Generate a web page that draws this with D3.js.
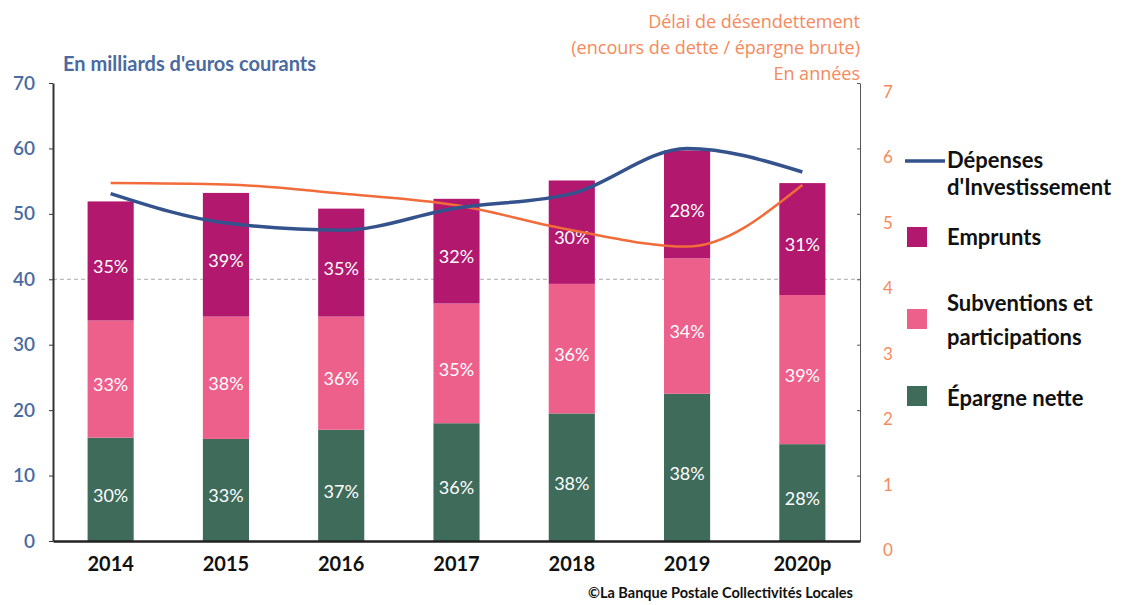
<!DOCTYPE html>
<html>
<head>
<meta charset="utf-8">
<script src="https://cdn.jsdelivr.net/npm/d3@7"></script>
<style>
    body { margin: 0; background: #fff; }
    svg text { font-family: Lato, "Open Sans", sans-serif; }
</style>
</head>
<body>
<svg id="chart" width="1133" height="605"></svg>
<script>
// data
const years = ["2014", "2015", "2016", "2017", "2018", "2019", "2020p"];
const epargneNette = [15.8, 15.6, 17.0, 18.0, 19.5, 22.5, 14.8];
const subventions = [17.9, 18.7, 17.3, 18.3, 19.8, 20.7, 22.8];
const emprunts = [18.2, 18.9, 16.5, 16.0, 15.8, 16.5, 17.1];

const pctEpargne = [30, 33, 37, 36, 38, 38, 28];
const pctSubventions = [33, 38, 36, 35, 36, 34, 39];
const pctEmprunts = [35, 39, 35, 32, 30, 28, 31];

// lines
const depenses = [53.1, 48.6, 47.5, 50.9, 53.1, 60.0, 56.4];   // left axis, Md€
const delai = [5.47, 5.45, 5.31, 5.13, 4.75, 4.50, 5.44];      // right axis, years

const leftTicks = [0, 10, 20, 30, 40, 50, 60, 70];
const rightTicks = [0, 1, 2, 3, 4, 5, 6, 7];

const colors = {
    epargne: "#3f6b5b",
    subventions: "#ee608c",
    emprunts: "#b1186e",
    depenses: "#34528c",
    delai: "#f26b3a",
    orangeText: "#f58a5c",
    blueText: "#4a6aa0"
};

const svg = d3.select("#chart");

// scales
const x = d3.scaleBand().domain(years).range([53, 860]).paddingInner(0.6).paddingOuter(0.3);
const yLeft = d3.scaleLinear().domain([0, 70]).range([541, 83]);
const yRight = d3.scaleLinear().domain([0, 7]).range([541, 83]);

// dashed gridline at 40
svg.append("line")
    .attr("x1", 53).attr("x2", 860)
    .attr("y1", yLeft(40)).attr("y2", yLeft(40))
    .attr("stroke", "#aaa")
    .attr("stroke-width", 1)
    .attr("stroke-dasharray", "4,3");

// stacked bars
const rows = years.map((yr, i) => ({
    year: yr,
    epargne: epargneNette[i],
    subventions: subventions[i],
    emprunts: emprunts[i]
}));
const keys = ["epargne", "subventions", "emprunts"];
const pctByKey = { epargne: pctEpargne, subventions: pctSubventions, emprunts: pctEmprunts };
const stack = d3.stack().keys(keys)(rows);

const layer = svg.append("g")
    .selectAll("g")
    .data(stack)
    .enter().append("g")
    .attr("fill", d => colors[d.key]);

layer.selectAll("rect")
    .data(d => d)
    .enter().append("rect")
    .attr("x", d => x(d.data.year))
    .attr("y", d => yLeft(d[1]))
    .attr("width", x.bandwidth())
    .attr("height", d => yLeft(d[0]) - yLeft(d[1]));

// percent labels inside bars
stack.forEach(s => {
    svg.append("g")
        .selectAll("text")
        .data(s)
        .enter().append("text")
        .attr("x", d => x(d.data.year) + x.bandwidth() / 2)
        .attr("y", d => (yLeft(d[0]) + yLeft(d[1])) / 2 + 6)
        .attr("dy", "0.35em")
        .attr("text-anchor", "middle")
        .attr("fill", "#fff")
        .attr("font-size", 18)
        .text((d, i) => pctByKey[s.key][i] + "%");
});

// left axis
const leftAxis = svg.append("g")
    .attr("transform", "translate(53,0)")
    .call(d3.axisLeft(yLeft).tickValues(leftTicks).tickSize(4).tickSizeOuter(0).tickPadding(14));
leftAxis.select(".domain").attr("stroke", "#333").attr("stroke-width", 2);
leftAxis.selectAll(".tick line").attr("stroke", "#333");
leftAxis.selectAll("text")
    .attr("fill", colors.blueText)
    .attr("font-size", 19)
    .attr("font-weight", 600);

// right axis
const rightAxis = svg.append("g")
    .attr("transform", "translate(860,0)")
    .call(d3.axisRight(yRight).tickValues(rightTicks).tickFormat(d3.format("d"))
        .tickSize(3).tickSizeOuter(0).tickPadding(20));
rightAxis.select(".domain").attr("stroke", "#555").attr("stroke-width", 1);
rightAxis.selectAll(".tick line").attr("stroke", "#555").attr("x2", -3);
rightAxis.selectAll("text")
    .attr("fill", colors.orangeText)
    .attr("font-size", 17)
    .attr("dy", "0.85em");

// bottom axis
const bottomAxis = svg.append("g")
    .attr("transform", "translate(0,541)")
    .call(d3.axisBottom(x).tickSize(0).tickSizeOuter(0).tickPadding(16));
bottomAxis.select(".domain").attr("stroke", "#222").attr("stroke-width", 2.5);
bottomAxis.selectAll("text")
    .attr("fill", "#111")
    .attr("font-size", 20)
    .attr("font-weight", 700);

// lines
const lineDelai = d3.line()
    .x((d, i) => x(years[i]) + x.bandwidth() / 2)
    .y(d => yRight(d))
    .curve(d3.curveMonotoneX);
const lineDepenses = d3.line()
    .x((d, i) => x(years[i]) + x.bandwidth() / 2)
    .y(d => yLeft(d))
    .curve(d3.curveMonotoneX);

svg.append("path")
    .datum(delai)
    .attr("d", lineDelai)
    .attr("fill", "none")
    .attr("stroke", colors.delai)
    .attr("stroke-width", 2.5);

svg.append("path")
    .datum(depenses)
    .attr("d", lineDepenses)
    .attr("fill", "none")
    .attr("stroke", colors.depenses)
    .attr("stroke-width", 3.5);

// axis titles
svg.append("text")
    .attr("x", 63).attr("y", 71)
    .attr("fill", colors.blueText)
    .attr("font-size", 20)
    .attr("font-weight", 700)
    .text("En milliards d'euros courants");

const rightTitle = ["Délai de désendettement", "(encours de dette / épargne brute)", "En années"];
svg.append("g")
    .selectAll("text")
    .data(rightTitle)
    .enter().append("text")
    .attr("x", 860)
    .attr("y", (d, i) => 28 + i * 26)
    .attr("text-anchor", "end")
    .attr("fill", colors.orangeText)
    .attr("font-size", 18)
    .style("font-family", "'Open Sans', sans-serif")
    .text(d => d);

// legend
const legend = svg.append("g");
legend.append("line")
    .attr("x1", 905).attr("x2", 945)
    .attr("y1", 161).attr("y2", 161)
    .attr("stroke", colors.depenses)
    .attr("stroke-width", 3.5);

const legendItems = [
    { key: "emprunts", y: 227, lines: ["Emprunts"], ty: [245] },
    { key: "subventions", y: 309, lines: ["Subventions et", "participations"], ty: [311, 345] },
    { key: "epargne", y: 386, lines: ["Épargne nette"], ty: [406] }
];
legendItems.forEach(item => {
    legend.append("rect")
        .attr("x", 907).attr("y", item.y)
        .attr("width", 20).attr("height", 20)
        .attr("fill", colors[item.key]);
    item.lines.forEach((t, i) => {
        legend.append("text")
            .attr("x", 947).attr("y", item.ty[i])
            .attr("font-size", 22)
            .attr("font-weight", 700)
            .attr("fill", "#111")
            .text(t);
    });
});
[["Dépenses", 168], ["d'Investissement", 195]].forEach(([t, ty]) => {
    legend.append("text")
        .attr("x", 947).attr("y", ty)
        .attr("font-size", 22)
        .attr("font-weight", 700)
        .attr("fill", "#111")
        .text(t);
});

// source
svg.append("text")
    .attr("x", 588).attr("y", 598)
    .attr("font-size", 14.5)
    .attr("font-weight", 700)
    .attr("fill", "#111")
    .text("©La Banque Postale Collectivités Locales");
</script>
</body>
</html>
